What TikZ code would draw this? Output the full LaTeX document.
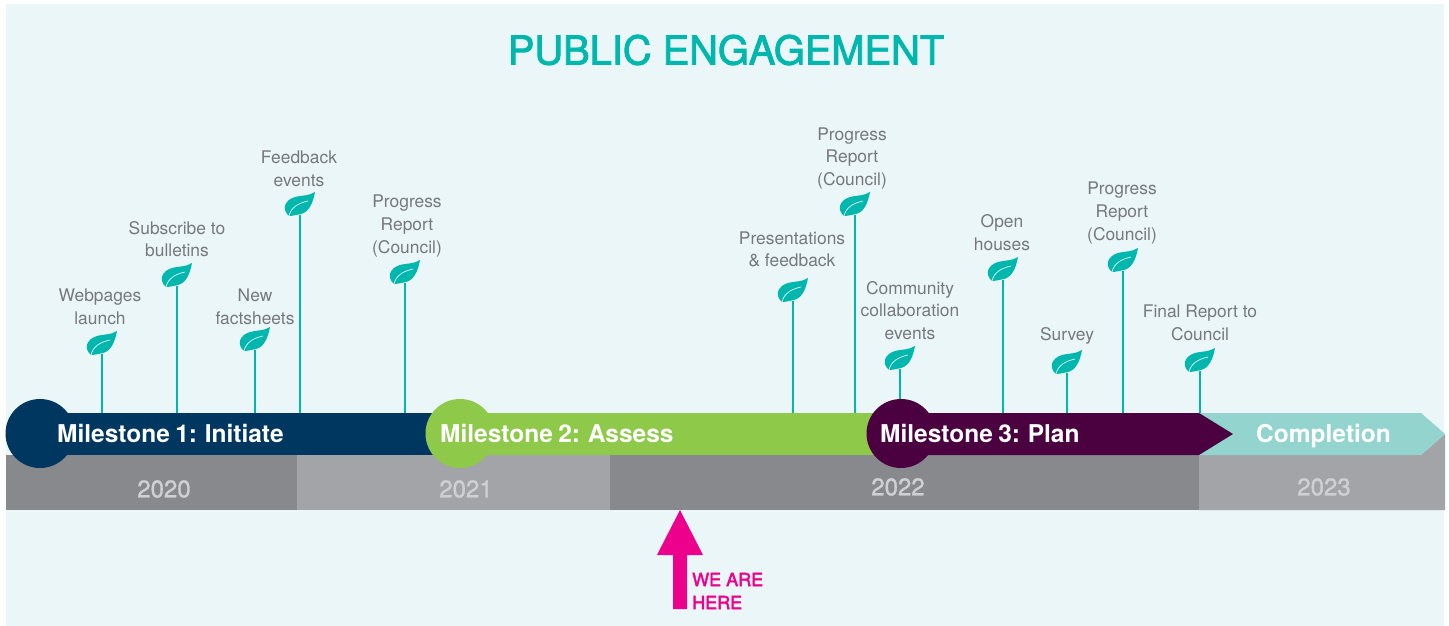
\documentclass[tikz,border=0pt]{standalone}
\usepackage{fontspec}
\setmainfont{TeX Gyre Heros}
\newcommand{\heavier}[2]{\special{pdf:code 2 Tr #1 w}#2\special{pdf:code 0 Tr 1 w}}
\newcommand{\msfont}{\fontsize{24.5}{28}\bfseries\selectfont\spaceskip=.22em\relax}
\definecolor{panel}{HTML}{EAF6F8}
\definecolor{teal1}{HTML}{00B7AE}
\definecolor{navy}{HTML}{003761}
\definecolor{leafgreen}{HTML}{8FC94A}
\definecolor{plum}{HTML}{4B0040}
\definecolor{mint}{HTML}{93D4CF}
\definecolor{darkband}{HTML}{87898D}
\definecolor{lightband}{HTML}{A2A4A8}
\definecolor{yeartext}{HTML}{CFD0D3}
\definecolor{labeltext}{HTML}{77787B}
\definecolor{pink1}{HTML}{EC008C}
\tikzset{
  lbl/.style={align=center,text=labeltext,inner sep=0pt,font=\fontsize{17.4}{22.7}\selectfont},
  stem/.style={draw=teal1,line width=2pt},
  ms/.style={text=white,inner sep=0pt,anchor=base west,font=\msfont},
  yr/.style={text=yeartext,inner sep=0pt,font=\fontsize{24}{28}\selectfont},
}
\newcommand{\leafstem}[3]{%
  \coordinate (#1top) at (#2,#3);
  \coordinate (#1bar) at (#2,413);
  \draw[stem] (#1top) -- (#1bar);
  \begin{scope}[shift={(#1top)}]
    \fill[teal1] (-11,1) .. controls (-19,-6) and (-15,-15) .. (-5,-18)
      .. controls (3,-20) and (9,-19) .. (15,-23)
      .. controls (13,-12) and (9,-3) .. (1,-1)
      .. controls (-4,0) and (-8,1) .. (-11,1) -- cycle;
    \draw[panel,line width=0.7pt] (-11,1) .. controls (-9,-8) and (-1,-12) .. (8,-14);
  \end{scope}}
\begin{document}
\begin{tikzpicture}[x=1pt,y=-1pt]
\useasboundingbox (0,0) rectangle (1449,626);
\fill[white] (0,0) rectangle (1449,626);
\fill[panel] (6,4) rectangle (1444,626);
\node[text=teal1,inner sep=0pt,font=\fontsize{39.8}{46}\selectfont] (title) at (726,50) {\heavier{0.9}{PUBLIC ENGAGEMENT}};
% year bands
\fill[darkband] (6,455) rectangle (297,510);
\fill[lightband] (297,455) rectangle (610,510);
\fill[darkband] (610,455) rectangle (1199,510);
\fill[lightband] (1199,455) -- (1421,455) -- (1445,434) -- (1445,510) -- (1199,510) -- cycle;
\node[yr] (y20) at (164,489) {\heavier{0.3}{2020}};
\node[yr] (y21) at (466,489) {\heavier{0.3}{2021}};
\node[yr] (y22) at (898,487) {\heavier{0.3}{2022}};
\node[yr] (y23) at (1324,487) {\heavier{0.3}{2023}};
% stems and leaves
\leafstem{a}{102}{354}
\leafstem{b}{177}{286}
\leafstem{c}{255}{350}
\leafstem{d}{300}{215}
\leafstem{e}{405}{283}
\leafstem{f}{793}{301}
\leafstem{g}{855}{215}
\leafstem{h}{900}{369}
\leafstem{i}{1003}{280}
\leafstem{j}{1067}{373}
\leafstem{k}{1123}{271}
\leafstem{l}{1200}{371}
% bars
\fill[mint] (1199,413) -- (1421,413) -- (1445,434) -- (1421,455) -- (1199,455) -- cycle;
\fill[navy] (40,413) rectangle (460,455);
\fill[navy] (40,433.5) circle[radius=34.5];
\fill[leafgreen] (460,413) rectangle (901,455);
\fill[leafgreen] (460,433.5) circle[radius=34.5];
\fill[plum] (901,413) -- (1199,413) -- (1233,434) -- (1199,455) -- (901,455) -- cycle;
\fill[plum] (901,433.5) circle[radius=34.5];
\node[ms] (m1) at (57,442) {Milestone 1: Initiate};
\node[ms] (m2) at (440,442) {Milestone 2: Assess};
\node[ms] (m3) at (880,442) {Milestone 3: Plan};
\node[ms,anchor=base] (m4) at (1323.5,442) {Completion};
% labels
\node[lbl] (la) at (100,307) {Webpages\\launch};
\node[lbl] (lb) at (177,239) {Subscribe to\\bulletins};
\node[lbl] (lc) at (255,307) {New\\factsheets};
\node[lbl] (ld) at (299,169) {Feedback\\events};
\node[lbl] (le) at (407,226) {Progress\\Report\\(Council)};
\node[lbl] (lf) at (792,249.5) {Presentations\\\& feedback};
\node[lbl] (lg) at (852,158.5) {Progress\\Report\\(Council)};
\node[lbl] (lh) at (910,310.5) {Community\\collaboration\\events};
\node[lbl] (li) at (1002,232.5) {Open\\houses};
\node[lbl] (lj) at (1067,336) {Survey};
\node[lbl] (lk) at (1122,213) {Progress\\Report\\(Council)};
\node[lbl] (ll) at (1200,323) {Final Report to\\Council};
% we are here
\fill[pink1] (680,510) -- (703,555) -- (687,555) -- (687,609) -- (673,609) -- (673,555) -- (657,555) -- cycle;
\node[inner sep=0pt,anchor=west,align=left,text=pink1,font=\fontsize{18}{23}\selectfont] (here) at (692,591) {\heavier{0.4}{WE ARE}\\\heavier{0.4}{HERE}};
\end{tikzpicture}
\end{document}
